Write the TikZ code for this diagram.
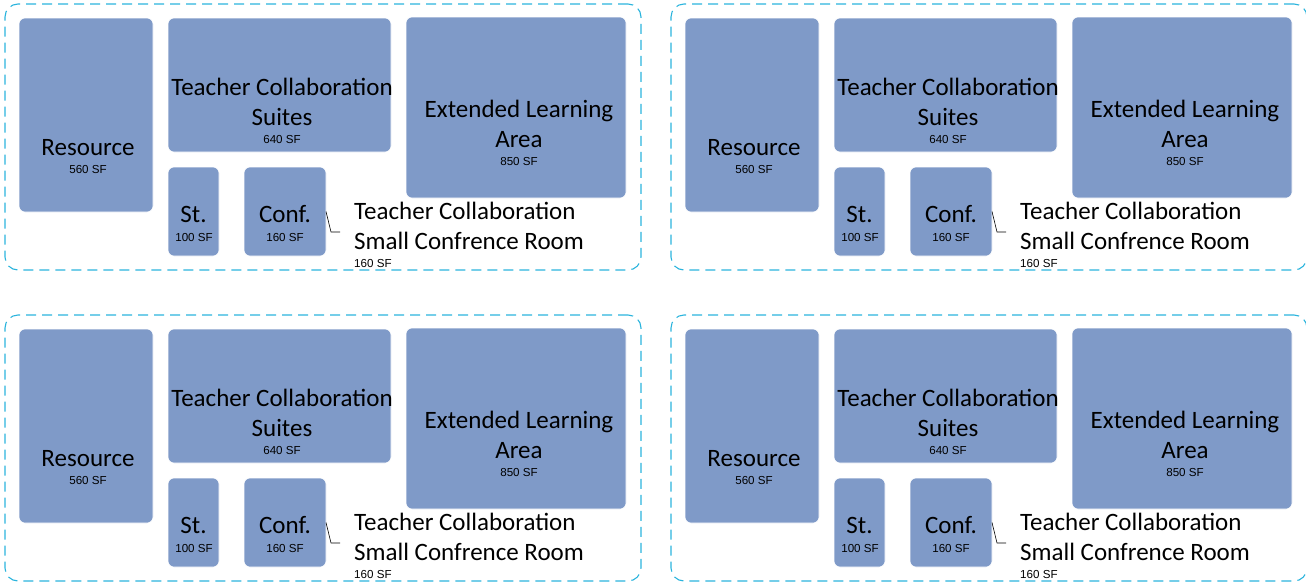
\documentclass[tikz,border=0pt]{standalone}
\usepackage{fontspec}
\setmainfont{Carlito}
\newfontfamily\smallfam{Liberation Sans}
\definecolor{roomblue}{HTML}{7F9AC8}
\definecolor{framecyan}{HTML}{2BB4DD}
\tikzset{
  room/.style={fill=roomblue, draw=white, line width=0.6pt, rounded corners=6pt, inner sep=0pt, outer sep=0pt, anchor=north west},
  frame/.style={draw=framecyan, line width=1.1pt, dash pattern=on 10pt off 6pt, rounded corners=13pt, inner sep=0pt, outer sep=0pt, anchor=north west},
  bigtxt/.style={font=\fontsize{25}{30}\selectfont, anchor=base, inner sep=0pt},
  smalltxt/.style={font=\smallfam\fontsize{11.6}{13}\selectfont, anchor=base, inner sep=0pt},
  lead/.style={draw=black, line width=0.6pt},
}
\newcommand{\roompanel}[3]{%
\begin{scope}[shift={(#1,#2)}]
  \node[frame, minimum width=636pt, minimum height=266pt] (frame#3) at (5,4) {};
  \node[room, minimum width=134pt, minimum height=194pt] (res#3) at (19,18) {};
  \node[room, minimum width=223pt, minimum height=134pt] (tcs#3) at (168,18) {};
  \node[room, minimum width=220pt, minimum height=181pt] (ela#3) at (406,17) {};
  \node[room, minimum width=51pt, minimum height=89pt] (st#3) at (168,167) {};
  \node[room, minimum width=82pt, minimum height=89pt] (conf#3) at (244,167) {};
  \node[bigtxt] (resA#3) at (88,155) {Resource};
  \node[smalltxt] (resB#3) at (88,173) {560 SF};
  \node[bigtxt] (tcsA#3) at (282,95) {Teacher Collaboration};
  \node[bigtxt] (tcsB#3) at (282,125) {Suites};
  \node[smalltxt] (tcsC#3) at (282,143) {640 SF};
  \node[bigtxt] (elaA#3) at (519,117) {Extended Learning};
  \node[bigtxt] (elaB#3) at (519,147) {Area};
  \node[smalltxt] (elaC#3) at (519,165) {850 SF};
  \node[bigtxt] (stA#3) at (193.5,222) {St.};
  \node[smalltxt] (stB#3) at (194,241) {100 SF};
  \node[bigtxt] (confA#3) at (285,222) {Conf.};
  \node[smalltxt] (confB#3) at (285,241) {160 SF};
  \node[bigtxt, anchor=base west] (lblA#3) at (354,219) {Teacher Collaboration};
  \node[bigtxt, anchor=base west] (lblB#3) at (354,249) {Small Confrence Room};
  \node[smalltxt, anchor=base west] (lblC#3) at (354,267) {160 SF};
  \coordinate (bend#3) at (331,232);
  \coordinate (tip#3) at (340,232);
  \draw[lead] (conf#3.east) -- (bend#3) -- (tip#3);
\end{scope}}
\begin{document}
\begin{tikzpicture}[x=1pt, y=-1pt]
  \useasboundingbox (0,0) rectangle (1306,584);
  \roompanel{0}{0}{a}
  \roompanel{666}{0}{b}
  \roompanel{0}{311}{c}
  \roompanel{666}{311}{d}
\end{tikzpicture}
\end{document}
